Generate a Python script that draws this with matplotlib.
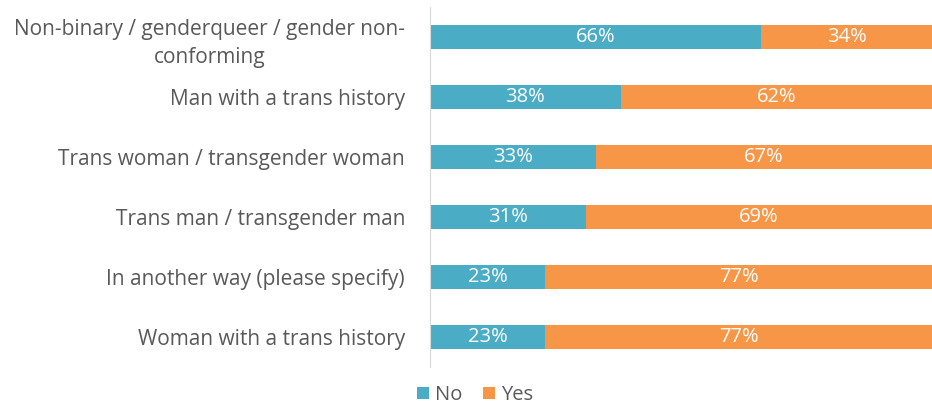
import matplotlib.pyplot as plt

plt.rcParams['font.family'] = ['Open Sans', 'DejaVu Sans']

categories = ['Non-binary / genderqueer / gender non-\nconforming',
              'Man with a trans history',
              'Trans woman / transgender woman',
              'Trans man / transgender man',
              'In another way (please specify)',
              'Woman with a trans history']
no = [66, 38, 33, 31, 23, 23]
yes = [34, 62, 67, 69, 77, 77]

c_no = '#4BACC6'
c_yes = '#F79646'
grey = '#595959'

fig = plt.figure(figsize=(9.32, 4.05), dpi=100)
ax = fig.add_axes([430 / 932, 1 - 367 / 405, 502 / 932, 360 / 405])

y = list(range(len(categories)))
ax.barh(y, no, height=0.4, color=c_no, label='No')
ax.barh(y, yes, left=no, height=0.4, color=c_yes, label='Yes')

for i in y:
    ax.text(no[i] / 2, i, f'{no[i]}%', ha='center', va='center', color='white', fontsize=14.5)
    ax.text(no[i] + yes[i] / 2, i, f'{yes[i]}%', ha='center', va='center', color='white', fontsize=14.5)

ax.set_xlim(0, 100)
ax.set_ylim(len(categories) - 0.5, -0.5)
ax.set_yticks(y)
ax.set_yticklabels(categories, fontsize=15, color=grey, ha='right',
                   multialignment='center', linespacing=1.45)
ax.tick_params(axis='y', length=0, pad=18)
ax.set_xticks([])
for s in ['top', 'right', 'bottom']:
    ax.spines[s].set_visible(False)
ax.spines['left'].set_color('#D9D9D9')

fig.legend(loc='center', bbox_to_anchor=(475 / 932, 1 - 395 / 405), ncol=2, frameon=False,
           fontsize=14.5, labelcolor=grey, handlelength=0.6, handleheight=0.6,
           handletextpad=0.3, columnspacing=1.0)

fig.savefig('out.png')
